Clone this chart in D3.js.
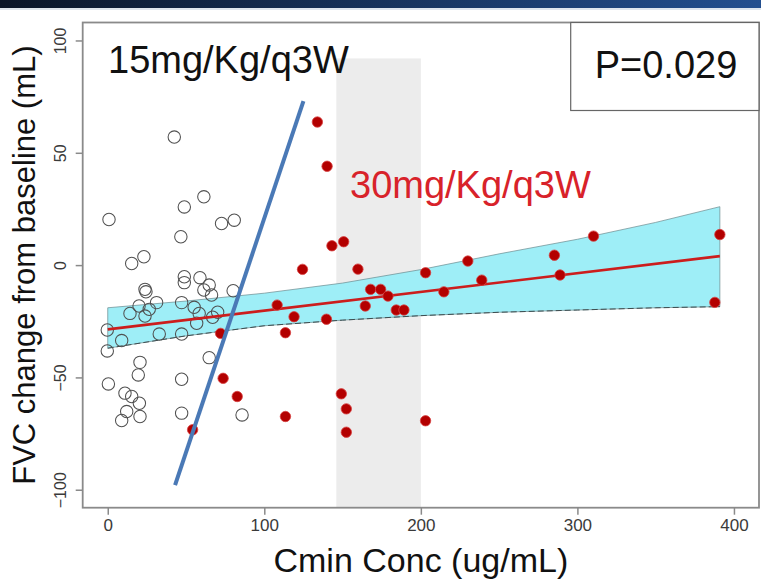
<!DOCTYPE html>
<html>
<head>
<meta charset="utf-8">
<script src="https://cdn.jsdelivr.net/npm/d3@7"></script>
<style>
  body { margin: 0; background: #fff; }
  svg { display: block; font-family: "Liberation Sans", Arial, sans-serif; }
</style>
</head>
<body>
<div id="chart"></div>
<script>
// open circles (15mg/Kg/q3W)
const lowX = [42.5, 0.8, 61.4, 48.9, 72.7, 80.8, 46.7, 23.1, 15.3, 48.9, 48.9, 58.9, 64.8, 61.4, 66.3, 80.1,
  23.8, 24.4, 31.2, 20, 14.2, 23.8, 26.5, 47.2, 55.2, 58.4, 70.2, 67, 56.8, 47.2, 32.9, 8.9, -0.3, -0.3,
  20.6, 19.5, 0.4, 47.2, 64.8, 11, 15.3, 20.2, 12.1, 8.9, 20.6, 47.2, 85.8];
const lowY = [57, 20.3, 30.4, 25.9, 18.5, 20, 12.6, 3.7, 0.7, -5.2, -7.8, -5.6, -8.9, -11.1, -13.3, -11.4,
  -10.8, -11.9, -16.7, -18.2, -21.5, -22.7, -19.7, -16.7, -18.8, -21.5, -21, -23.2, -25.9, -30.7, -30.7, -33.6, -28.9, -38.2,
  -43.3, -48.9, -52.9, -50.8, -41.2, -57, -58.5, -61.5, -65.2, -69.2, -67.4, -65.9, -66.7];

// filled points (30mg/Kg/q3W)
const highX = [108.2, 72.1, 73.7, 82.7, 54.2, 133.9, 140.1, 143.2, 150.7, 124.4, 159.8, 119, 113.5, 139.7,
  167.9, 174.3, 179, 164.5, 184.3, 189.2, 203, 214.7, 230, 238.9, 149.2, 152.4, 152.4, 113.5, 203,
  285.3, 288.9, 310.3, 391, 387.8];
const highY = [-17.8, -30.4, -50.4, -58.5, -73.3, 63.7, 44, 8.6, 10.4, -1.9, -1.8, -23, -30.1, -24.1,
  -10.8, -10.8, -13.8, -18.2, -20, -20, -3.4, -11.9, 1.8, -6.7, -57.3, -64, -74.4, -67.4, -69.3,
  4.4, -4.4, 12.9, 13.6, -16.6];

// fitted line and confidence band
const fitX = [0, 391];
const fitY = [-28.6, 4];
const bandX = [0, 50, 100, 150, 200, 250, 300, 350, 391];
const bandUpper = [-19, -16, -12.5, -8, -2, 5, 11.5, 19, 26];
const bandLower = [-37, -31.5, -27, -24.5, -22.5, -21, -20, -19, -18.5];

// hand drawn 15mg trend line
const trendX = [43, 125];
const trendY = [-98, 73];

// shaded concentration window
const windowX = [146, 200];
const windowTop = 92;

const xTicks = [0, 100, 200, 300, 400];
const yTicks = [-100, -50, 0, 50, 100];

const W = 761, H = 586;
const margin = {top: 22.5, right: 2, bottom: 78.3, left: 82.7};
const width = W - margin.left - margin.right;
const height = H - margin.top - margin.bottom;

const svg = d3.select('#chart').append('svg')
  .attr('width', W)
  .attr('height', H);

// header strip
const grad = svg.append('defs').append('linearGradient')
  .attr('id', 'hdr').attr('x1', 0).attr('x2', 1);
grad.append('stop').attr('offset', 0).attr('stop-color', '#0b1629');
grad.append('stop').attr('offset', 1).attr('stop-color', '#234f8f');
svg.append('rect').attr('width', W).attr('height', 8).attr('fill', 'url(#hdr)');
svg.append('rect').attr('y', 8).attr('width', W).attr('height', 2).attr('fill', '#dfe6ee');

const x = d3.scaleLinear().domain([-16, 416]).range([0, width]);
const y = d3.scaleLinear().domain([-108, 108]).range([height, 0]);

const g = svg.append('g').attr('transform', `translate(${margin.left},${margin.top})`);

g.append('rect')
  .attr('x', x(windowX[0]))
  .attr('y', y(windowTop))
  .attr('width', x(windowX[1]) - x(windowX[0]))
  .attr('height', y(-108) - y(windowTop))
  .attr('fill', '#ececec');

// confidence band
const upperPts = bandX.map((v, i) => [x(v), y(bandUpper[i])]);
const lowerPts = bandX.map((v, i) => [x(v), y(bandLower[i])]);
g.append('path')
  .attr('d', d3.line()(upperPts.concat(lowerPts.slice().reverse())) + 'Z')
  .attr('fill', '#9eeef7')
  .attr('stroke', '#6a8a8e')
  .attr('stroke-width', 0.7);
g.append('path')
  .attr('d', d3.line()(lowerPts))
  .attr('fill', 'none')
  .attr('stroke', '#3d4d50')
  .attr('stroke-width', 1)
  .attr('stroke-dasharray', '6,3');

// open circles
g.selectAll('.low')
  .data(lowX)
  .enter().append('circle')
  .attr('class', 'low')
  .attr('cx', d => x(d))
  .attr('cy', (d, i) => y(lowY[i]))
  .attr('r', 6.2)
  .attr('fill', 'none')
  .attr('stroke', '#505050')
  .attr('stroke-width', 1.05);

// fitted line
g.append('line')
  .attr('x1', x(fitX[0])).attr('y1', y(fitY[0]))
  .attr('x2', x(fitX[1])).attr('y2', y(fitY[1]))
  .attr('stroke', '#cc1d1d')
  .attr('stroke-width', 2.6);

// filled points
g.selectAll('.high')
  .data(highX)
  .enter().append('circle')
  .attr('class', 'high')
  .attr('cx', d => x(d))
  .attr('cy', (d, i) => y(highY[i]))
  .attr('r', 5.2)
  .attr('fill', '#b30000')
  .attr('stroke', '#d84040')
  .attr('stroke-width', 0.8);

// blue trend line
g.append('line')
  .attr('x1', x(trendX[0])).attr('y1', y(trendY[0]))
  .attr('x2', x(trendX[1])).attr('y2', y(trendY[1]))
  .attr('stroke', '#4a79b6')
  .attr('stroke-width', 4);

// frame
g.append('rect')
  .attr('width', width).attr('height', height)
  .attr('fill', 'none')
  .attr('stroke', '#8a8a8a')
  .attr('stroke-width', 1.8);

// axes
const xAxis = g.append('g')
  .attr('transform', `translate(0,${height})`)
  .call(d3.axisBottom(x).tickValues(xTicks).tickSize(7).tickPadding(4).tickSizeOuter(0));
xAxis.select('.domain').remove();
xAxis.selectAll('line').attr('stroke', '#8a8a8a').attr('stroke-width', 1.5);
xAxis.selectAll('text').attr('font-size', 17).attr('fill', '#3a3a3a')
  .attr('font-family', '"Liberation Sans", Arial, sans-serif');

const yAxis = g.append('g')
  .call(d3.axisLeft(y).tickValues(yTicks).tickSize(7).tickSizeOuter(0).tickFormat(d => d < 0 ? '\u2212' + Math.abs(d) : d));
yAxis.select('.domain').remove();
yAxis.selectAll('line').attr('stroke', '#8a8a8a').attr('stroke-width', 1.5);
yAxis.selectAll('text')
  .attr('font-size', 16).attr('fill', '#3a3a3a')
  .attr('font-family', '"Liberation Sans", Arial, sans-serif')
  .attr('transform', 'rotate(-90)')
  .attr('x', 0).attr('y', -17).attr('dy', 0)
  .attr('text-anchor', 'middle');

// annotations
g.append('text')
  .attr('x', 108 - margin.left)
  .attr('y', 73 - margin.top)
  .attr('font-size', 38)
  .attr('fill', '#111')
  .text('15mg/Kg/q3W');

g.append('text')
  .attr('x', 350 - margin.left)
  .attr('y', 198 - margin.top)
  .attr('font-size', 38)
  .attr('fill', '#d8222a')
  .text('30mg/Kg/q3W');

// p-value box
g.append('rect')
  .attr('x', 570.7 - margin.left)
  .attr('y', 0)
  .attr('width', width - (570.7 - margin.left))
  .attr('height', 88)
  .attr('fill', '#fff')
  .attr('stroke', '#666')
  .attr('stroke-width', 1.2);
g.append('text')
  .attr('x', 666 - margin.left)
  .attr('y', 78 - margin.top)
  .attr('text-anchor', 'middle')
  .attr('font-size', 38)
  .attr('fill', '#111')
  .text('P=0.029');

// axis titles
svg.append('text')
  .attr('x', margin.left + width / 2)
  .attr('y', 572)
  .attr('text-anchor', 'middle')
  .attr('font-size', 34)
  .attr('fill', '#111')
  .text('Cmin Conc (ug/mL)');

svg.append('text')
  .attr('transform', `translate(35,${margin.top + height / 2}) rotate(-90)`)
  .attr('text-anchor', 'middle')
  .attr('font-size', 31)
  .attr('fill', '#111')
  .text('FVC change from baseline (mL)');
</script>
</body>
</html>
